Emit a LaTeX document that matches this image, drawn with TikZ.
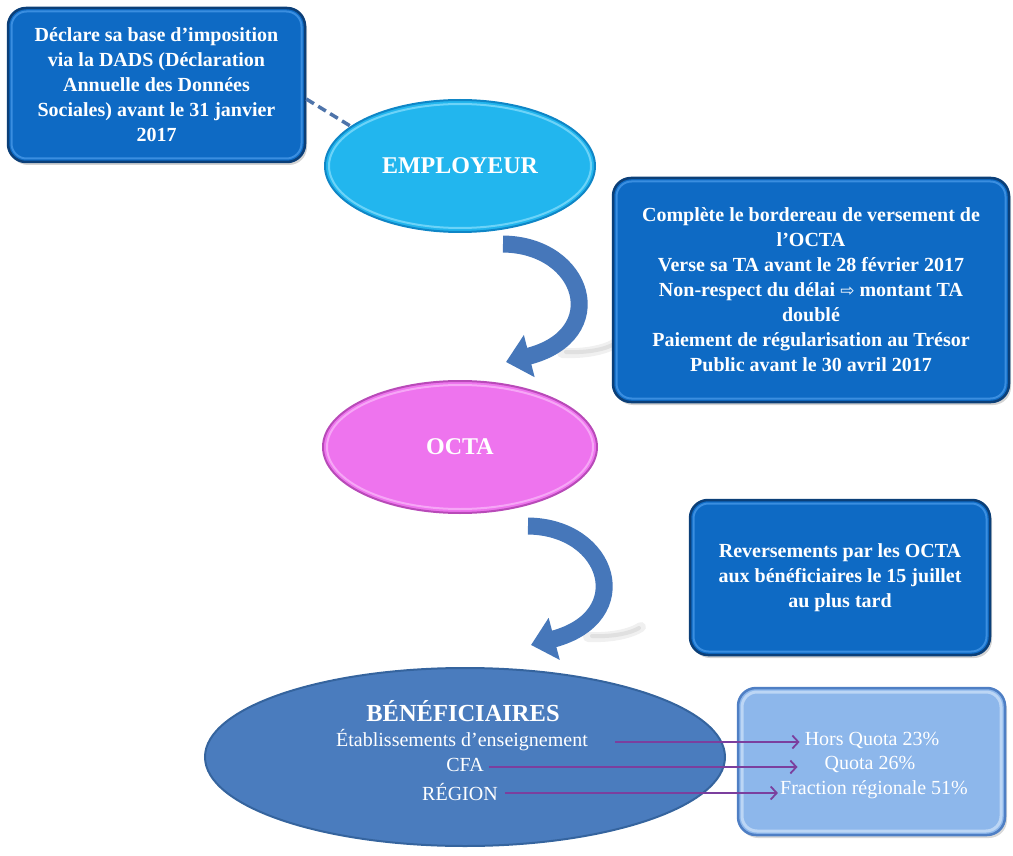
\documentclass[tikz,border=0pt]{standalone}
\usepackage{fontspec}
\setmainfont{Liberation Serif}
\newfontfamily\symfont{DejaVu Sans}
\usetikzlibrary{arrows.meta,shapes.geometric,shadows}
\definecolor{boxfill}{HTML}{0E6AC4}
\definecolor{boxedge}{HTML}{0B3F78}
\definecolor{boxbevel}{HTML}{3A8EE0}
\definecolor{empfill}{HTML}{22B6EE}
\definecolor{empedge}{HTML}{0F86C6}
\definecolor{empbevel}{HTML}{6CD3F8}
\definecolor{octafill}{HTML}{EE74EE}
\definecolor{octaedge}{HTML}{B84AB8}
\definecolor{octabevel}{HTML}{F6A6F6}
\definecolor{benfill}{HTML}{4A7CBE}
\definecolor{benedge}{HTML}{35649E}
\definecolor{lightfill}{HTML}{8DB7EB}
\definecolor{lightedge}{HTML}{4F7FC4}
\definecolor{lightbevel}{HTML}{BCD6F5}
\definecolor{arrowblue}{HTML}{4677BA}
\definecolor{dashblue}{HTML}{4E74AA}
\definecolor{purplearrow}{HTML}{7B3F9E}
\begin{document}
\begin{tikzpicture}[x=1pt,y=-1pt,
  bluebox/.style={rectangle, rounded corners=18pt, fill=boxfill, draw=boxedge,
    line width=2.5pt, text=white, font=\bfseries\fontsize{20}{25}\selectfont,
    align=center, inner sep=0pt,
    drop shadow={shadow xshift=2pt, shadow yshift=-3pt, opacity=.35},
    path picture={\draw[boxbevel, line width=2pt, rounded corners=15pt]
      ([shift={(3.5pt,3.5pt)}]path picture bounding box.south west) rectangle
      ([shift={(-3.5pt,-3.5pt)}]path picture bounding box.north east);}},
  lightbox/.style={rectangle, rounded corners=18pt, fill=lightfill, draw=lightedge,
    line width=2.5pt, inner sep=0pt,
    drop shadow={shadow xshift=2pt, shadow yshift=-3pt, opacity=.3},
    path picture={\draw[lightbevel, line width=3pt, rounded corners=15pt]
      ([shift={(4pt,4pt)}]path picture bounding box.south west) rectangle
      ([shift={(-4pt,-4pt)}]path picture bounding box.north east);}},
  oval/.style={ellipse, inner sep=0pt, line width=2pt, text=white},
  bigarrow/.style={draw=arrowblue, line width=17pt,
    -{Triangle[length=24pt,width=42pt]}},
  purple/.style={draw=purplearrow, line width=1.8pt,
    -{Straight Barb[length=6pt,width=13pt]}},
  plain/.style={text=white, font=\fontsize{20}{25}\selectfont, inner sep=0pt},
  streak/.style={line cap=round},
]
\useasboundingbox (0,0) rectangle (1013,856);

% arrow shadows
\draw[streak, black!6, line width=10pt] (562,353) .. controls (585,354) and (605,350) .. (616,343);
\draw[streak, black!12, line width=4pt] (566,352) .. controls (588,353) and (606,349) .. (614,344);
\draw[streak, black!6, line width=10pt] (588,637) .. controls (610,638) and (630,634) .. (641,627);
\draw[streak, black!12, line width=4pt] (592,636) .. controls (613,637) and (631,633) .. (639,628);

% boxes
\node[bluebox, minimum width=297pt, minimum height=154pt] (b1) at (156.5,85)
  {Déclare sa base d’imposition\\via la DADS (Déclaration\\Annuelle des Données\\Sociales) avant le 31 janvier\\2017};
\node[bluebox, minimum width=396pt, minimum height=224pt] (b2) at (811,290)
  {Complète le bordereau de versement de\\l’OCTA\\Verse sa TA avant le 28 février 2017\\Non-respect du délai {\symfont\mdseries\fontsize{17}{25}\selectfont ⇨} montant TA\\doublé\\Paiement de régularisation au Trésor\\Public avant le 30 avril 2017};
\node[bluebox, minimum width=300pt, minimum height=155pt] (b3) at (840,577.5)
  {Reversements par les OCTA\\aux bénéficiaires le 15 juillet\\au plus tard};
\node[lightbox, minimum width=267pt, minimum height=147pt] (b4) at (871.5,761.5) {};

% ellipses
\node[oval, fill=empfill, draw=empedge, minimum width=270pt, minimum height=132pt,
  font=\bfseries\fontsize{24}{28}\selectfont,
  path picture={\draw[empbevel, line width=2pt] (path picture bounding box.center) ellipse (131pt and 62pt);}]
  (emp) at (460,166) {EMPLOYEUR};
\node[oval, fill=octafill, draw=octaedge, minimum width=274pt, minimum height=132pt,
  font=\bfseries\fontsize{24}{28}\selectfont,
  path picture={\draw[octabevel, line width=2pt] (path picture bounding box.center) ellipse (133pt and 62pt);}]
  (octa) at (460,447) {OCTA};
\node[oval, fill=benfill, draw=benedge, minimum width=520pt, minimum height=178pt] (ben) at (465,757) {};

% dashed link
\draw[dashblue, line width=3.5pt, dash pattern=on 9pt off 5pt] ([yshift=-14pt]b1.east) -- (emp.160);

% curved arrows
\coordinate (a1s) at (503,244);
\coordinate (a1e) at (506,362);
\draw[bigarrow] (a1s) .. controls (585,245) and (612,335) .. (a1e);
\coordinate (a2s) at (528,526);
\coordinate (a2e) at (531,645);
\draw[bigarrow] (a2s) .. controls (610,527) and (637,617) .. (a2e);

% beneficiaires text
\node[plain, font=\bfseries\fontsize{24.5}{30}\selectfont] (bt) at (463,711) {BÉNÉFICIAIRES};
\node[plain] (etab) at (462,740) {Établissements d’enseignement};
\node[plain] (cfa) at (465,765) {CFA};
\node[plain] (reg) at (460,792) {RÉGION};

% quota text
\node[plain] (hq) at (872,740) {Hors Quota 23\%};
\node[plain] (qu) at (870,764) {Quota 26\%};
\node[plain] (fr) at (874,790) {Fraction régionale 51\%};

% purple arrows
\draw[purple, shorten <=27pt, shorten >=5pt] ([yshift=-2pt]etab.east) -- ([yshift=-2pt]etab.east -| hq.west);
\draw[purple, shorten <=5pt, shorten >=27pt] ([yshift=-2pt]cfa.east) -- ([yshift=-2pt]cfa.east -| qu.west);
\draw[purple, shorten <=7pt, shorten >=2pt] ([yshift=-1pt]reg.east) -- ([yshift=-1pt]reg.east -| fr.west);
\end{tikzpicture}
\end{document}
